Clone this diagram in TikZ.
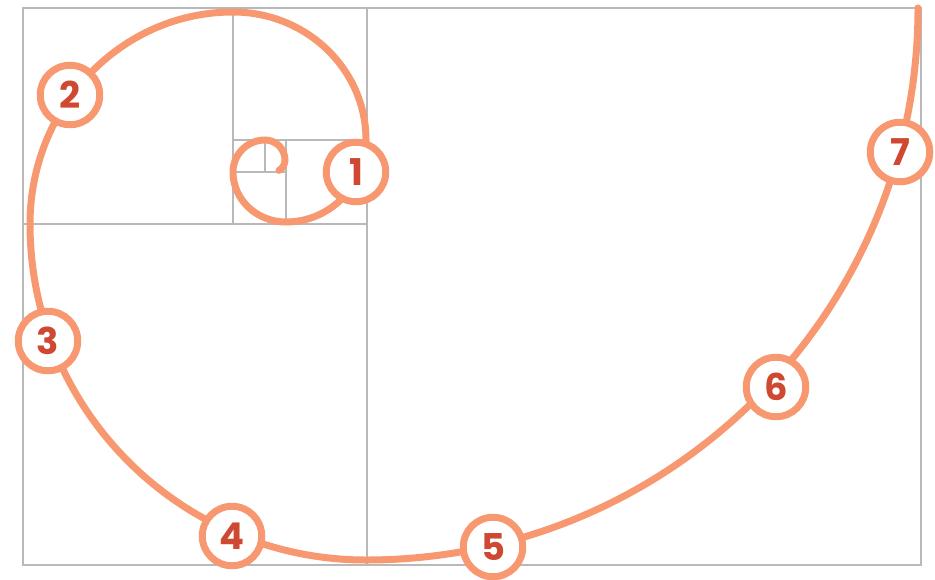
\documentclass[tikz,border=0pt]{standalone}
\usepackage{fontspec}
\newfontfamily\numfont{Poppins}
\usepackage{xcolor}
\usepackage{tikz}
\definecolor{spiralorange}{RGB}{247,152,112}
\definecolor{numred}{RGB}{206,72,50}
\definecolor{gridgray}{RGB}{185,185,185}

\begin{document}
\begin{tikzpicture}[
  x=0.02cm, y=0.02cm,
  grid/.style={draw=gridgray, line width=0.8pt},
  spiral/.style={draw=spiralorange, line width=0.14cm, line cap=round},
  num/.style={circle, draw=spiralorange, fill=white, line width=0.14cm, minimum size=1.19cm, inner sep=0pt,
              text=numred, font=\numfont\bfseries\fontsize{21}{21}\selectfont}]
\useasboundingbox (0,0) rectangle (935,579);
% --- golden rectangle and its squares ---
\draw[grid] (23,14) rectangle (921,571);
\draw[grid] (367,14) -- (367,571);
\draw[grid] (23,355) -- (367,355);
\draw[grid] (233,355) -- (233,571);
\draw[grid] (233,439) -- (367,439);
\draw[grid] (286,355) -- (286,439);
\draw[grid] (233,407) -- (286,407);
\draw[grid] (265,407) -- (265,439);
% --- spiral ---
\draw[spiral] (918,571)
  arc[start angle=0, end angle=-90, radius=552]
  arc[start angle=-90, end angle=-180, radius=336]
  arc[start angle=180, end angle=90, x radius=203, y radius=212]
  arc[start angle=90, end angle=0, x radius=133, y radius=128]
  arc[start angle=0, end angle=-90, x radius=80, y radius=82]
  arc[start angle=-90, end angle=-180, x radius=53, y radius=50]
  arc[start angle=180, end angle=90, radius=32]
  arc[start angle=90, end angle=0, radius=20]
  arc[start angle=0, end angle=-60, radius=12];
% --- numbered markers ---
\foreach \n/\x/\y in {1/356/407, 2/70/484, 3/48/238, 4/232/43, 5/493/32, 6/776/192, 7/900/427}
  \node[num] (m\n) at (\x,\y) {\n};
\end{tikzpicture}
\end{document}
